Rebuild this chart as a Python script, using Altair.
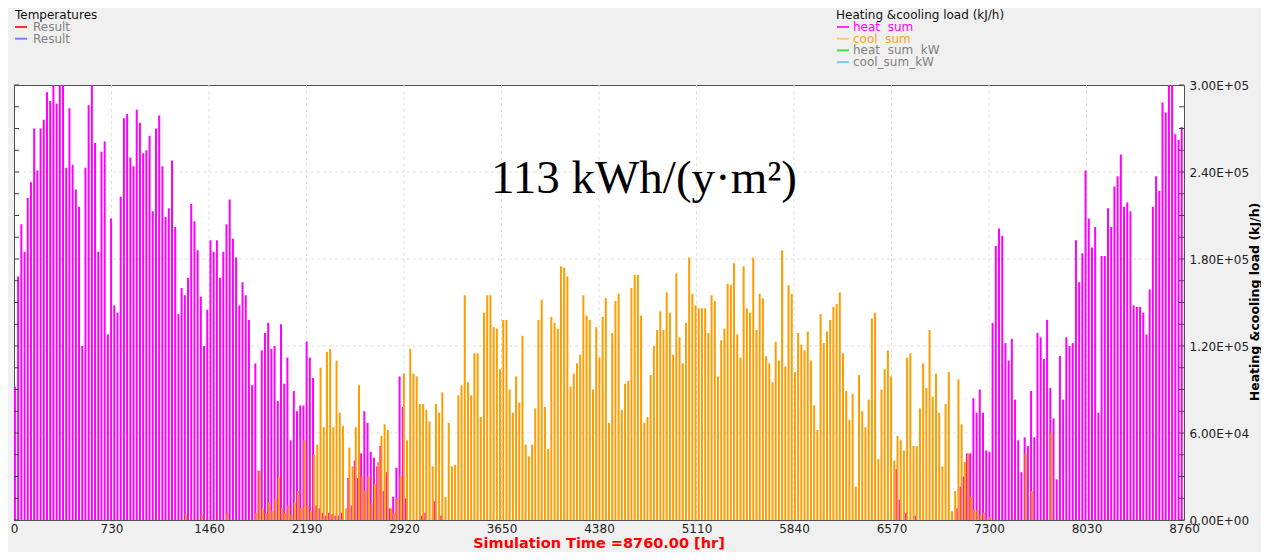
import json
import altair as alt
import pandas as pd

# Daily peak loads, in 1000 kJ/h (one value per day, 365 days)
heat_k = [
    92, 168, 204, 185, 222, 233, 270, 241, 270, 276,
    295, 289, 300, 287, 300, 300, 243, 284, 245, 228,
    216, 120, 243, 286, 300, 260, 185, 254, 261, 128,
    208, 148, 143, 223, 277, 280, 250, 244, 283, 274,
    253, 255, 265, 213, 270, 279, 244, 209, 215, 248,
    202, 142, 160, 155, 167, 218, 206, 186, 154, 120,
    145, 193, 185, 193, 167, 185, 204, 221, 194, 181,
    148, 164, 155, 138, 93, 108, 34, 117, 129, 136,
    118, 120, 82, 135, 94, 112, 55, 89, 75, 79,
    79, 123, 112, 98, 10, 8, 5, 3, 5, 4,
    3, 3, 5, 0, 29, 10, 41, 29, 46, 75,
    67, 47, 43, 37, 51, 20, 33, 8, 16, 36,
    99, 78, 15, 0, 0, 0, 0, 3, 5, 0,
    0, 13, 0, 3, 0, 0, 0, 0, 0, 0,
    0, 0, 0, 0, 0, 0, 0, 0, 0, 0,
    0, 0, 0, 0, 0, 0, 0, 0, 0, 0,
    0, 0, 0, 0, 0, 0, 0, 0, 0, 0,
    0, 0, 0, 0, 0, 0, 0, 0, 0, 0,
    0, 0, 0, 0, 0, 0, 0, 0, 0, 0,
    0, 0, 0, 0, 0, 0, 0, 0, 0, 0,
    0, 0, 0, 0, 0, 0, 0, 0, 0, 0,
    0, 0, 0, 0, 0, 0, 0, 0, 0, 0,
    0, 0, 0, 0, 0, 0, 0, 0, 0, 0,
    0, 0, 0, 0, 0, 0, 0, 0, 0, 0,
    0, 0, 0, 0, 0, 0, 0, 0, 0, 0,
    0, 0, 0, 0, 0, 0, 0, 0, 0, 0,
    0, 0, 0, 0, 0, 0, 0, 0, 0, 0,
    0, 0, 0, 0, 0, 35, 14, 0, 5, 0,
    0, 3, 0, 0, 0, 0, 0, 0, 0, 0,
    0, 0, 0, 0, 8, 23, 30, 46, 46, 84,
    74, 90, 74, 48, 47, 136, 189, 201, 196, 122,
    110, 125, 83, 55, 33, 57, 51, 89, 57, 129,
    126, 111, 138, 91, 70, 28, 113, 83, 126, 120,
    122, 193, 164, 184, 241, 208, 188, 202, 74, 182,
    182, 215, 202, 230, 237, 252, 216, 219, 213, 148,
    147, 147, 143, 128, 159, 216, 237, 227, 288, 281,
    300, 300, 266, 262, 271,
]

cool_k = [
    0, 0, 0, 0, 0, 0, 0, 0, 0, 0,
    0, 0, 0, 0, 0, 0, 0, 0, 0, 0,
    0, 0, 0, 0, 0, 0, 0, 0, 0, 0,
    0, 0, 0, 0, 0, 0, 0, 0, 0, 0,
    0, 0, 0, 0, 0, 0, 0, 0, 0, 0,
    0, 0, 0, 4, 0, 0, 0, 0, 3, 0,
    0, 0, 0, 0, 0, 0, 5, 0, 0, 0,
    0, 0, 0, 0, 0, 5, 34, 8, 5, 12,
    6, 15, 30, 8, 5, 10, 4, 12, 20, 8,
    55, 10, 6, 45, 52, 105, 64, 116, 118, 64,
    110, 74, 65, 8, 50, 37, 64, 93, 30, 20,
    30, 12, 25, 40, 58, 66, 62, 8, 5, 15,
    30, 101, 55, 118, 101, 99, 80, 80, 76, 68,
    37, 80, 74, 88, 16, 67, 37, 38, 86, 93,
    155, 95, 86, 115, 115, 71, 143, 155, 155, 133,
    132, 104, 138, 138, 90, 74, 99, 81, 127, 52,
    44, 52, 77, 138, 152, 78, 49, 140, 136, 132,
    175, 174, 168, 92, 101, 108, 114, 155, 141, 138,
    90, 133, 112, 140, 153, 67, 129, 151, 156, 76,
    94, 96, 160, 169, 169, 141, 67, 71, 100, 120,
    131, 144, 131, 157, 143, 114, 170, 126, 108, 136,
    181, 156, 148, 146, 146, 146, 129, 155, 151, 99,
    124, 132, 163, 162, 177, 128, 112, 175, 146, 143,
    181, 131, 156, 153, 113, 108, 95, 123, 110, 186,
    106, 162, 156, 102, 129, 121, 117, 130, 110, 79,
    62, 142, 122, 130, 138, 147, 149, 157, 115, 89,
    69, 87, 23, 100, 75, 64, 83, 139, 143, 42,
    90, 104, 117, 99, 41, 58, 55, 48, 112, 115,
    51, 51, 77, 108, 91, 131, 85, 101, 74, 37,
    80, 102, 6, 20, 97, 66, 40, 46, 16, 7,
    7, 3, 5, 0, 2, 0, 0, 0, 0, 0,
    0, 0, 0, 0, 0, 46, 0, 20, 0, 0,
    0, 0, 0, 60, 0, 0, 0, 0, 0, 0,
    0, 0, 0, 0, 0, 0, 0, 0, 0, 0,
    0, 0, 0, 0, 0, 0, 0, 0, 0, 0,
    0, 0, 0, 0, 0, 0, 0, 0, 0, 0,
    0, 0, 0, 0, 0,
]

x_ticks = [0, 730, 1460, 2190, 2920, 3650, 4380, 5110, 5840, 6570, 7300, 8030, 8760]
y_ticks = [0, 60000, 120000, 180000, 240000, 300000]
y_tick_labels = ["0.00E+00", "6.00E+04", "1.20E+05", "1.80E+05", "2.40E+05", "3.00E+05"]
minor_y = [0, 15000, 30000, 45000, 60000, 75000, 90000, 105000, 120000, 135000, 150000,
           165000, 180000, 195000, 210000, 225000, 240000, 255000, 270000, 285000, 300000]

series_names = ["heat_sum", "cool_sum"]
series_colors = ["#ff00ff", "#ff9c00"]

rows = []
for d, v in enumerate(heat_k):
    rows.append({"hour": d * 24 + 7, "load": v * 1000, "series": "heat_sum"})
for d, v in enumerate(cool_k):
    rows.append({"hour": d * 24 + 15, "load": v * 1000, "series": "cool_sum"})
df = pd.DataFrame(rows)
df = df[df["load"] > 0]

FONT = "DejaVu Sans"

xscale = alt.Scale(domain=[0, 8760], nice=False, zero=False)
yscale = alt.Scale(domain=[0, 300000], nice=False)

label_expr = json.dumps(y_tick_labels) + "[round(datum.value / " + str(y_ticks[1]) + ")]"

# dashed grid (inner lines only, so the frame stays solid)
grid_x = alt.Chart(pd.DataFrame({"h": x_ticks[1:-1]})).mark_rule(
    color="#e0e0e0", strokeDash=[3, 3], strokeWidth=1).encode(
    x=alt.X("h:Q", scale=xscale))
grid_y = alt.Chart(pd.DataFrame({"v": y_ticks[1:-1]})).mark_rule(
    color="#e0e0e0", strokeDash=[3, 3], strokeWidth=1).encode(
    y=alt.Y("v:Q", scale=yscale))

spikes = alt.Chart(df).mark_rule(strokeWidth=2).encode(
    x=alt.X("hour:Q", scale=xscale,
            axis=alt.Axis(values=x_ticks, format="d", grid=False,
                          ticks=False, domain=False, labelFontSize=12, labelFont=FONT,
                          labelColor="#222222", labelPadding=3, labelFlush=False,
                          labelOverlap=False, title=None)),
    y=alt.Y("load:Q", scale=yscale,
            axis=alt.Axis(orient="right", values=y_ticks, labelExpr=label_expr, grid=False,
                          ticks=False, domain=False,
                          labelFontSize=12, labelFont=FONT, labelColor="#222222",
                          labelPadding=5, labelOverlap=False, labelFlush=False, title=None)),
    y2=alt.datum(0),
    color=alt.Color("series:N", scale=alt.Scale(domain=series_names, range=series_colors),
                    legend=None),
)

ticks_df = pd.DataFrame({"v": minor_y})
left_ticks = alt.Chart(ticks_df).mark_rule(color="#404040", strokeWidth=1).encode(
    y=alt.Y("v:Q", scale=yscale), x=alt.value(0), x2=alt.value(5))
right_ticks = alt.Chart(ticks_df).mark_rule(color="#404040", strokeWidth=1).encode(
    y=alt.Y("v:Q", scale=yscale), x=alt.value(1165), x2=alt.value(1170))

layers = [grid_x, grid_y, spikes, left_ticks, right_ticks]


def txt(s, x, y, size=12, color="#222222", weight="normal", font=FONT, align="left",
        baseline="middle", angle=0):
    return alt.Chart(pd.DataFrame({"t": [s]})).mark_text(
        fontSize=size, color=color, fontWeight=weight, font=font, align=align,
        baseline=baseline, angle=angle).encode(text="t:N", x=alt.value(x), y=alt.value(y))


def seg(x1, x2, y, color):
    return alt.Chart(pd.DataFrame({"a": [0]})).mark_rule(color=color, strokeWidth=2).encode(
        x=alt.value(x1), x2=alt.value(x2), y=alt.value(y))


# legend: Temperatures
layers.append(txt("Temperatures", 1, -70.5, color="#111111"))
left_items = [("Result", "#ff3030", "#808080"), ("Result", "#8080ff", "#808080")]
for i, (name, lc, tc) in enumerate(left_items):
    yy = -58 + 11.7 * i
    layers.append(seg(1, 13, yy, lc))
    layers.append(txt(name, 19, yy, color=tc))

# legend: Heating & cooling
layers.append(txt("Heating &cooling load (kJ/h)", 822, -70.5, color="#111111"))
right_items = [("heat\u00a0 sum", "#ff30ff", "#ff00ff"),
               ("cool\u00a0 sum", "#ffc880", "#ffa020"),
               ("heat\u00a0 sum\u00a0 kW", "#40e040", "#808080"),
               ("cool_sum_kW", "#80c8f0", "#808080")]
for i, (name, lc, tc) in enumerate(right_items):
    yy = -58 + 11.7 * i
    layers.append(seg(823, 835, yy, lc))
    layers.append(txt(name, 839, yy, color=tc))

# annotation
layers.append(txt("113 kWh/(y\u00b7m\u00b2)", 630, 108, size=47, color="#000000",
                  font="Liberation Serif", align="center", baseline="alphabetic"))

# axis titles
layers.append(txt("Simulation Time =8760.00 [hr]", 585, 458.5, size=14.5, color="#ff0000",
                  weight="bold", align="center"))
layers.append(txt("Heating &cooling load (kJ/h)", 1245, 217, size=12.5, color="#000000",
                  weight="bold", align="center", baseline="alphabetic", angle=270))

chart = alt.layer(*layers).properties(
    width=1170, height=435,
    padding={"left": 6, "top": 77, "right": 77, "bottom": 32},
    autosize=alt.AutoSizeParams(type="none"),
    background="#f0f0f0",
).configure_view(fill="#ffffff", stroke="#505050", strokeWidth=1)

chart.save("out.html", embed_options={"renderer": "svg", "actions": False})
